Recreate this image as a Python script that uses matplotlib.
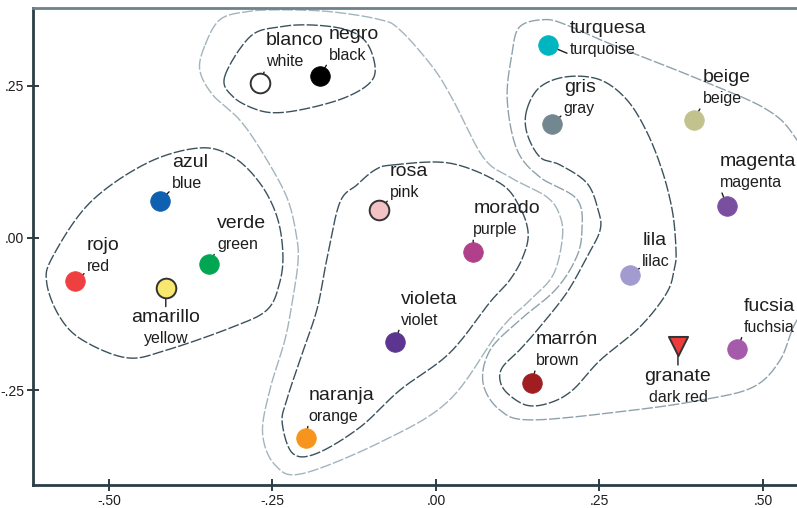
import numpy as np
import matplotlib

matplotlib.use("Agg")
import matplotlib.pyplot as plt

# colour terms: Spanish name, English gloss, 2-D coordinates, swatch colour
spanish = ["blanco", "negro", "azul", "verde", "rojo", "amarillo", "rosa",
           "morado", "violeta", "naranja", "turquesa", "gris", "beige",
           "magenta", "lila", "fucsia", "granate", "marrón"]
english = ["white", "black", "blue", "green", "red", "yellow", "pink",
           "purple", "violet", "orange", "turquoise", "gray", "beige",
           "magenta", "lilac", "fuchsia", "dark red", "brown"]
dim1 = [-0.269, -0.177, -0.422, -0.347, -0.552, -0.413, -0.087,
        0.057, -0.063, -0.199, 0.171, 0.177, 0.394,
        0.445, 0.297, 0.460, 0.370, 0.147]
dim2 = [0.255, 0.266, 0.061, -0.043, -0.071, -0.082, 0.046,
        -0.023, -0.171, -0.329, 0.317, 0.188, 0.194,
        0.053, -0.061, -0.183, -0.178, -0.238]
swatch = ["#ffffff", "#000000", "#0f60b0", "#00a651", "#ee4040", "#f8e870",
          "#f4c2c4", "#b0408a", "#5b3590", "#f7941d", "#00b5c0", "#738790",
          "#c2c28e", "#7a4fa0", "#a29bd0", "#a65baa", "#ee3b3b", "#a01e22"]

# density contour outlines (dim1, dim2 vertices)
cont_left = [(-0.361, 0.148), (-0.310, 0.133), (-0.269, 0.090), (-0.243, 0.035),
             (-0.234, -0.025), (-0.239, -0.074), (-0.258, -0.118), (-0.310, -0.146),
             (-0.411, -0.184), (-0.472, -0.197), (-0.540, -0.168), (-0.575, -0.130),
             (-0.595, -0.074), (-0.586, -0.031), (-0.529, 0.058), (-0.442, 0.123)]
cont_bw = [(-0.323, 0.265), (-0.284, 0.331), (-0.239, 0.347), (-0.188, 0.350),
           (-0.136, 0.342), (-0.106, 0.321), (-0.093, 0.281), (-0.101, 0.255),
           (-0.136, 0.232), (-0.188, 0.215), (-0.239, 0.206), (-0.274, 0.211),
           (-0.310, 0.232)]
cont_mid_outer = [(-0.353, 0.317), (-0.330, 0.359), (-0.289, 0.372), (-0.239, 0.375),
                  (-0.162, 0.372), (-0.086, 0.359), (-0.055, 0.342), (-0.005, 0.281),
                  (0.026, 0.227), (0.072, 0.133), (0.113, 0.100), (0.170, 0.067),
                  (0.190, 0.035), (0.193, -0.003), (0.179, -0.061), (0.144, -0.102),
                  (0.098, -0.151), (0.021, -0.266), (-0.078, -0.332), (-0.203, -0.387),
                  (-0.246, -0.373), (-0.265, -0.321), (-0.254, -0.250), (-0.231, -0.168),
                  (-0.220, -0.107), (-0.211, -0.041), (-0.213, 0.002), (-0.228, 0.067),
                  (-0.265, 0.140), (-0.300, 0.194), (-0.341, 0.235), (-0.361, 0.276)]
cont_mid = [(-0.066, 0.120), (0.021, 0.123), (0.098, 0.090), (0.128, 0.051),
            (0.141, 0.008), (0.133, -0.031), (0.113, -0.069), (0.083, -0.105),
            (0.021, -0.189), (-0.055, -0.250), (-0.116, -0.311), (-0.182, -0.354),
            (-0.219, -0.354), (-0.235, -0.304), (-0.228, -0.266), (-0.208, -0.201),
            (-0.182, -0.118), (-0.167, -0.036), (-0.147, 0.058), (-0.121, 0.087),
            (-0.093, 0.112)]
cont_right = [(0.139, 0.211), (0.159, 0.248), (0.200, 0.265), (0.251, 0.260),
              (0.292, 0.227), (0.323, 0.173), (0.347, 0.107), (0.362, 0.041),
              (0.367, -0.020), (0.365, -0.048), (0.353, -0.090), (0.312, -0.146),
              (0.251, -0.201), (0.209, -0.250), (0.174, -0.271), (0.139, -0.275),
              (0.109, -0.255), (0.098, -0.234), (0.102, -0.212), (0.128, -0.184),
              (0.159, -0.146), (0.200, -0.090), (0.231, -0.031), (0.251, 0.013),
              (0.248, 0.046), (0.231, 0.090), (0.190, 0.120), (0.159, 0.133),
              (0.139, 0.173)]
cont_right_outer = [(0.116, 0.301), (0.128, 0.347), (0.167, 0.359), (0.200, 0.350),
                    (0.251, 0.326), (0.301, 0.304), (0.404, 0.260), (0.506, 0.211),
                    (0.552, 0.161), (0.602, 0.062), (0.602, -0.069), (0.552, -0.135),
                    (0.526, -0.201), (0.485, -0.245), (0.408, -0.266), (0.301, -0.283),
                    (0.148, -0.299), (0.098, -0.283), (0.072, -0.238), (0.083, -0.184),
                    (0.128, -0.135), (0.182, -0.086), (0.213, -0.036), (0.223, 0.008),
                    (0.216, 0.063), (0.159, 0.100), (0.124, 0.145), (0.109, 0.227)]

x_ticks = [-0.50, -0.25, 0.00, 0.25, 0.50]
x_tick_labels = ["-.50", "-.25", ".00", ".25", ".50"]
y_ticks = [-0.25, 0.00, 0.25]
y_tick_labels = ["-.25", ".00", ".25"]

# label placement (offset pixels of the English gloss; 'below' puts the pair under the mark)
label_pos = {
    "blanco": (6, 21), "negro": (9, 21), "azul": (12, 17), "verde": (8, 20),
    "rojo": (12, 15), "rosa": (11, 17), "morado": (0, 22), "violeta": (6, 22),
    "naranja": (3, 22), "turquesa": (22, -4), "gris": (12, 15), "beige": (9, 21),
    "magenta": (-7, 23), "lila": (12, 14), "fucsia": (7, 22), "marrón": (4, 22),
}
below = {"amarillo": 30, "granate": 30}
edged = {"blanco", "amarillo", "rosa", "granate"}

DARK = "#3b525c"
LIGHT = "#a3b4bd"
MEDIUM = "#8fa2ac"
TEXT = "#1e1e1e"


def closed_spline(pts, n=24):
    p = np.asarray(pts, dtype=float)
    m = len(p)
    t = np.linspace(0, 1, n, endpoint=False)[:, None]
    segs = []
    for i in range(m):
        p0, p1, p2, p3 = p[i - 1], p[i], p[(i + 1) % m], p[(i + 2) % m]
        segs.append(0.5 * (2 * p1 + (-p0 + p2) * t
                           + (2 * p0 - 5 * p1 + 4 * p2 - p3) * t ** 2
                           + (-p0 + 3 * p1 - 3 * p2 + p3) * t ** 3))
    out = np.vstack(segs)
    return np.vstack([out, out[:1]])


plt.rcParams["font.family"] = ["Liberation Sans", "DejaVu Sans"]

fig = plt.figure(figsize=(7.97, 5.08), dpi=100)
ax = fig.add_axes([33 / 797, 23 / 508, 764 / 797, 477 / 508])

for pts, col in [(cont_mid_outer, LIGHT), (cont_right_outer, MEDIUM),
                 (cont_left, DARK), (cont_bw, DARK), (cont_mid, DARK),
                 (cont_right, DARK)]:
    c = closed_spline(pts)
    ax.plot(c[:, 0], c[:, 1], color=col, lw=1.0, ls=(0, (8, 1.6)), zorder=1)

for name, en, x, y, col in zip(spanish, english, dim1, dim2, swatch):
    if name in below:
        dy = below[name]
        ax.annotate(name, (x, y), xytext=(0, -dy), textcoords="offset pixels",
                    ha="center", va="center", fontsize=14, color=TEXT, zorder=2,
                    arrowprops=dict(arrowstyle="-", color=TEXT, lw=1.0,
                                    shrinkA=0, shrinkB=0, relpos=(0.5, 1.0)))
        ax.annotate(en, (x, y), xytext=(0, -dy - 21), textcoords="offset pixels",
                    ha="center", va="center", fontsize=11.5, color=TEXT, zorder=2)
    else:
        dx, dy = label_pos[name]
        ax.annotate(en, (x, y), xytext=(dx, dy), textcoords="offset pixels",
                    ha="left", va="center", fontsize=11.5, color=TEXT, zorder=2,
                    arrowprops=dict(arrowstyle="-", color=TEXT, lw=1.0,
                                    shrinkA=0, shrinkB=0, relpos=(0.0, 0.15)))
        ax.annotate(name, (x, y), xytext=(dx, dy + 21), textcoords="offset pixels",
                    ha="left", va="center", fontsize=14, color=TEXT, zorder=2)
    marker = "v" if name == "granate" else "o"
    size = 190 if name == "granate" else 200
    edge = "#333333" if name in edged else col
    ax.scatter([x], [y], s=size, marker=marker, c=col, edgecolors=edge,
               linewidths=1.4 if name in edged else 0.5, zorder=3)

ax.set_xlim(-0.616, 0.552)
ax.set_ylim(-0.406, 0.378)
ax.set_xticks(x_ticks)
ax.set_xticklabels(x_tick_labels)
ax.set_yticks(y_ticks)
ax.set_yticklabels(y_tick_labels)
ax.tick_params(direction="inout", length=9, width=1.4, color="#2b3d45",
               labelsize=10, labelcolor=TEXT, pad=2)
ax.spines["right"].set_visible(False)
for side in ("left", "bottom"):
    ax.spines[side].set_color("#2b3d45")
    ax.spines[side].set_linewidth(2.0)
ax.spines["top"].set_color("#6d828c")
ax.spines["top"].set_linewidth(2.0)

fig.savefig("out.png", dpi=100)
